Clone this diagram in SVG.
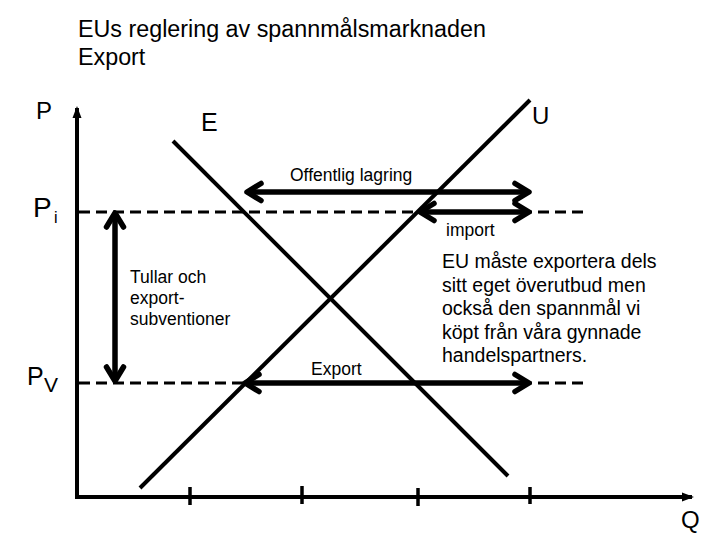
<svg xmlns="http://www.w3.org/2000/svg" width="720" height="540" viewBox="0 0 720 540">
<style>
text{font-family:"Liberation Sans",Arial,sans-serif;fill:#000}
.title{font-size:23.3px}
.lbl{font-size:17.5px}
.para{font-size:19.5px}
.axis{stroke:#000;stroke-width:4;fill:none}
.curve{stroke:#000;stroke-width:4;fill:none}
.dash{stroke:#000;stroke-width:3.2;stroke-dasharray:11 6;fill:none}
.arr{stroke:#000;stroke-width:5.5;fill:none;marker-start:url(#head);marker-end:url(#head)}
.tick{stroke:#000;stroke-width:3.5}
</style>
<defs>
<marker id="head" markerUnits="userSpaceOnUse" viewBox="-20 -14 26 28" markerWidth="26" markerHeight="28" refX="0" refY="0" orient="auto-start-reverse" overflow="visible">
<path d="M-13,-8.5 L1,0 L-13,8.5" stroke="#000" stroke-width="5.5" fill="none" stroke-linejoin="round" stroke-linecap="round"/>
</marker>
<marker id="axhead" markerUnits="userSpaceOnUse" viewBox="-12 -6 14 12" markerWidth="14" markerHeight="12" refX="0" refY="0" orient="auto" overflow="visible">
<path d="M-10,-4.5 L2,0 L-10,4.5 Z" fill="#000"/>
</marker>
</defs>

<g id="title">
<text class="title" x="78" y="37">EUs reglering av spannmålsmarknaden</text>
<text class="title" x="78" y="65">Export</text>
</g>

<g id="axes">
<line class="axis" x1="77" y1="499" x2="77" y2="108" marker-end="url(#axhead)"/>
<line class="axis" x1="75" y1="497" x2="692" y2="497" marker-end="url(#axhead)"/>
<line class="tick" x1="190" y1="487" x2="190" y2="505"/>
<line class="tick" x1="302" y1="486" x2="302" y2="504"/>
<line class="tick" x1="418" y1="488" x2="418" y2="506"/>
<line class="tick" x1="530" y1="487" x2="530" y2="504"/>
<text x="36" y="119" style="font-size:24px">P</text>
<text x="681" y="528" style="font-size:24px">Q</text>
</g>

<g id="price-levels">
<line class="dash" x1="79" y1="212" x2="587" y2="212"/>
<line class="dash" x1="79" y1="383" x2="587" y2="383"/>
<text x="33" y="217" style="font-size:28px">P</text>
<text x="54" y="223" style="font-size:16px">i</text>
<text x="27" y="385" style="font-size:25px">P</text>
<text x="44" y="392" style="font-size:21px">V</text>
</g>

<g id="demand-E">
<line class="curve" x1="173" y1="141" x2="508" y2="476"/>
<text x="201" y="131" style="font-size:25px">E</text>
</g>

<g id="supply-U">
<line class="curve" x1="530" y1="100" x2="140" y2="488"/>
<text x="532" y="124" style="font-size:24px">U</text>
</g>

<g id="connectors">
<line class="arr" x1="248" y1="192" x2="528" y2="192"/>
<line class="arr" x1="421" y1="212" x2="528" y2="212"/>
<line class="arr" x1="246" y1="383" x2="528" y2="383"/>
<line class="arr" x1="115" y1="214" x2="115" y2="380"/>
</g>

<g id="label-offentlig">
<text class="lbl" x="290" y="181">Offentlig lagring</text>
</g>
<g id="label-import">
<text class="lbl" x="446" y="236">import</text>
</g>
<g id="label-export">
<text class="lbl" x="311" y="375">Export</text>
</g>
<g id="label-tullar">
<text class="lbl" x="130" y="283">Tullar och</text>
<text class="lbl" x="130" y="304">export-</text>
<text class="lbl" x="130" y="325">subventioner</text>
</g>
<g id="note">
<text class="para" x="442" y="268">EU måste exportera dels</text>
<text class="para" x="442" y="291.5">sitt eget överutbud men</text>
<text class="para" x="442" y="315">också den spannmål vi</text>
<text class="para" x="442" y="338.5">köpt från våra gynnade</text>
<text class="para" x="442" y="362">handelspartners.</text>
</g>
</svg>
